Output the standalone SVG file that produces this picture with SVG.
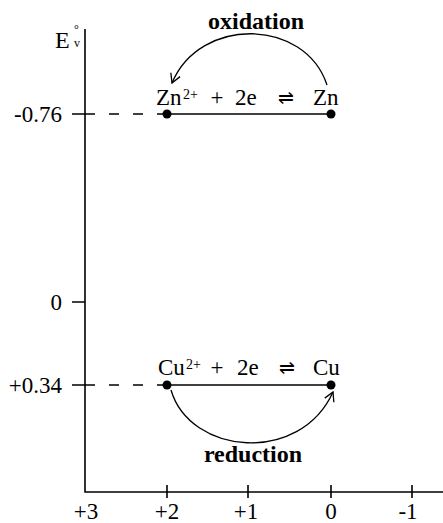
<svg xmlns="http://www.w3.org/2000/svg" width="443" height="523" viewBox="0 0 443 523">
<defs>
<style>
text{font-family:"Liberation Serif","Times New Roman",serif;fill:#000}
.t{font-size:23px}
.sup{font-size:14px}
.eq{font-size:19px}
.b{font-size:24px;font-weight:bold}
.ax{stroke:#000;stroke-width:1.6;fill:none}
.ln{stroke:#000;stroke-width:1.5;fill:none}
.dash{stroke:#000;stroke-width:1.5;fill:none;stroke-dasharray:10 14}
.arc{stroke:#000;stroke-width:1.3;fill:none}
.dot{fill:#000}
</style>
<marker id="ah" viewBox="-10 -6 12 12" markerWidth="12" markerHeight="12" refX="0" refY="0" orient="auto" markerUnits="userSpaceOnUse">
<path d="M-9,-5 L0,0 L-9,5" fill="none" stroke="#000" stroke-width="1.3"/>
</marker>
</defs>
<rect width="443" height="523" fill="#fff"/>
<g id="axes">
<path class="ax" d="M85,29 V492 H443"/>
<path class="ax" d="M72,114 H85 M72,302 H85 M72,385 H85"/>
<path class="ax" d="M167,485 V498 M248,485 V498 M331,485 V498 M412,485 V498"/>
<text x="55" y="48" style="font-size:24px">E</text>
<text x="74" y="33" style="font-size:12px">°</text>
<text x="74" y="47" style="font-size:12px">v</text>
<text class="t" x="62" y="122" text-anchor="end">-0.76</text>
<text class="t" x="62" y="310" text-anchor="end">0</text>
<text class="t" x="62" y="393" text-anchor="end">+0.34</text>
<text class="t" x="86" y="519" text-anchor="middle">+3</text>
<text class="t" x="167" y="519" text-anchor="middle">+2</text>
<text class="t" x="246" y="519" text-anchor="middle">+1</text>
<text class="t" x="331" y="519" text-anchor="middle">0</text>
<text class="t" x="408" y="519" text-anchor="middle">-1</text>
</g>
<g id="zn-couple">
<path class="dash" d="M85,114 H167"/>
<path class="ln" d="M167,114 H331"/>
<circle class="dot" cx="167" cy="114" r="4.5"/>
<circle class="dot" cx="331" cy="114" r="4.5"/>
<text class="t" x="156" y="105">Zn</text>
<text class="sup" x="183" y="99">2+</text>
<text class="t" x="217" y="105" text-anchor="middle">+</text>
<text class="t" x="235" y="105">2e</text>
<text class="eq" x="286" y="104" text-anchor="middle">⇌</text>
<text class="t" x="313" y="105">Zn</text>
</g>
<g id="cu-couple">
<path class="dash" d="M85,385 H167"/>
<path class="ln" d="M167,385 H331"/>
<circle class="dot" cx="167" cy="385" r="4.5"/>
<circle class="dot" cx="331" cy="385" r="4.5"/>
<text class="t" x="158" y="375">Cu</text>
<text class="sup" x="186" y="369">2+</text>
<text class="t" x="217" y="375" text-anchor="middle">+</text>
<text class="t" x="237" y="375">2e</text>
<text class="eq" x="287" y="374" text-anchor="middle">⇌</text>
<text class="t" x="313" y="375">Cu</text>
</g>
<g id="labels">
<text class="b" x="256" y="29" text-anchor="middle">oxidation</text>
<text class="b" x="253" y="462" text-anchor="middle">reduction</text>
</g>
<g id="connectors">
<path class="arc" d="M327,85 C305,18 200,16 172,83" marker-end="url(#ah)"/>
<path class="arc" d="M171,390 C190,455 300,465 333,392" marker-end="url(#ah)"/>
</g>
</svg>
